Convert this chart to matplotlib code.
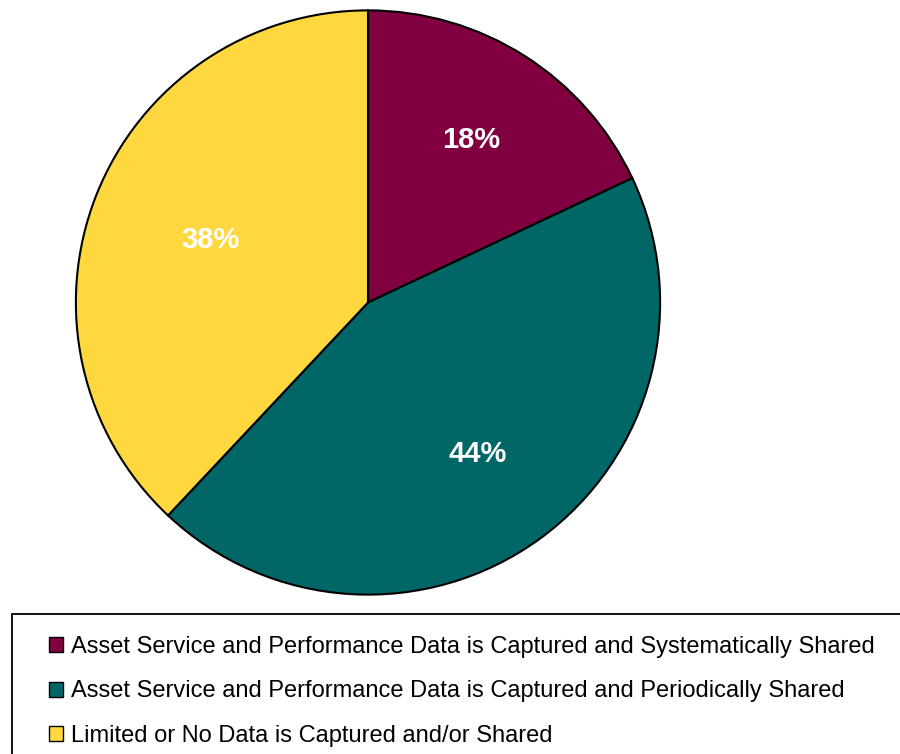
import matplotlib
matplotlib.use("Agg")
import matplotlib.pyplot as plt
import numpy as np
from matplotlib.patches import Rectangle

plt.rcParams['font.family'] = ['Liberation Sans', 'DejaVu Sans']

categories = [
    "Asset Service and Performance Data is Captured and Systematically Shared",
    "Asset Service and Performance Data is Captured and Periodically Shared",
    "Limited or No Data is Captured and/or Shared",
]
shares = [18, 44, 38]
colors = ["#800040", "#006666", "#FFD83F"]
label_radius = [0.66, 0.64, 0.58]

W, H = 900, 754
fig = plt.figure(figsize=(W / 100, H / 100), dpi=100)
fig.patch.set_facecolor("white")

# pie axes: center (368, 302), radius ~293 px
cx, cy, r = 368, 302.5, 293
ax = fig.add_axes([(cx - r) / W, (H - cy - r) / H, 2 * r / W, 2 * r / H])
ax.set_axis_off()

wedges, _ = ax.pie(shares, colors=colors, startangle=90, counterclock=False,
                   radius=1, wedgeprops=dict(edgecolor="black", linewidth=1.5))
ax.set_xlim(-1.003, 1.003)
ax.set_ylim(-1.003, 1.003)

for w, val, rd in zip(wedges, shares, label_radius):
    mid = np.deg2rad((w.theta1 + w.theta2) / 2)
    ax.text(rd * np.cos(mid), rd * np.sin(mid), f"{val}%", color="white",
            fontsize=21, fontweight="bold", ha="center", va="center")

# legend frame running off the bottom-right edge
fig.patches.append(Rectangle((12 / W, -0.05), 1.0, (H - 614) / H + 0.05,
                             transform=fig.transFigure, facecolor="white",
                             edgecolor="black", linewidth=1.3, zorder=0))

leg = fig.legend(wedges, categories, loc="upper left",
                 bbox_to_anchor=(49 / W, (H - 636) / H),
                 frameon=False, fontsize=17, handlelength=0.59,
                 handleheight=0.59, handletextpad=0.34, labelspacing=0.95,
                 borderpad=0, borderaxespad=0)
for h in leg.legend_handles:
    h.set_linewidth(1.0)
    h.set_edgecolor("black")

fig.savefig("out.png", dpi=100)
